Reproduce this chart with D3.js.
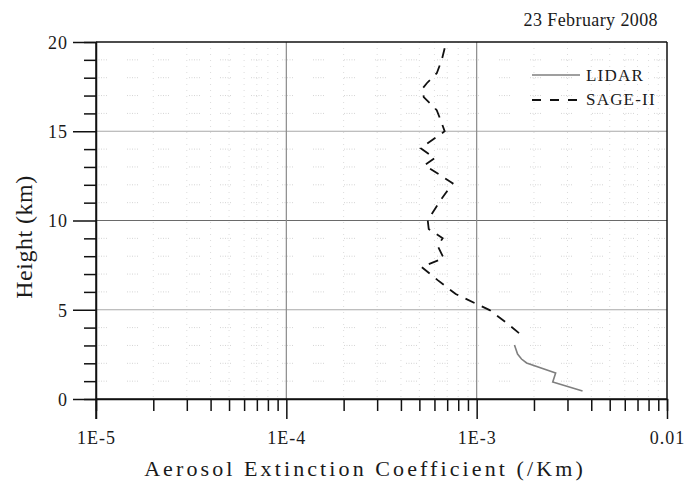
<!DOCTYPE html>
<html><head><meta charset="utf-8">
<script src="https://cdn.jsdelivr.net/npm/d3@7"></script>
<style>
body{margin:0;background:#fff}
svg{display:block}
text{font-family:"Liberation Serif","DejaVu Serif",serif;fill:#1a1a1a}
</style></head>
<body><svg id="c" width="685" height="481"></svg>
<script>
// ---- data ----
const xTickValues = [1e-5, 1e-4, 1e-3, 1e-2];
const xTickLabels = ["1E-5", "1E-4", "1E-3", "0.01"];
const yTickValues = [0, 5, 10, 15, 20];
const yTickLabels = ["0", "5", "10", "15", "20"];
const seriesNames = ["LIDAR", "SAGE-II"];
const dateLabel = "23 February 2008";
const xTitle = "Aerosol Extinction Coefficient (/Km)";
const yTitle = "Height (km)";

const lidarHeight = [3.02, 2.52, 2.24, 2.02, 1.46, 0.95, 0.45];
const lidarExt    = [1.58e-3, 1.64e-3, 1.72e-3, 1.83e-3, 2.60e-3, 2.51e-3, 3.60e-3];

const sageHeight = [19.65, 18.98, 18.25, 17.69, 17.41, 16.91, 16.18, 15.62, 15.0, 14.05,
                    13.49, 13.10, 12.09, 11.14, 10.02, 9.52, 9.01, 8.57, 7.89, 7.39,
                    6.66, 5.88, 4.98, 4.31, 3.47];
const sageExt    = [6.79e-4, 6.55e-4, 6.17e-4, 5.47e-4, 5.21e-4, 5.27e-4, 6.17e-4, 6.47e-4, 6.79e-4, 5.08e-4,
                    6.02e-4, 5.33e-4, 7.48e-4, 6.47e-4, 5.53e-4, 5.60e-4, 6.63e-4, 6.24e-4, 6.71e-4, 5.14e-4,
                    6.24e-4, 7.76e-4, 1.17e-3, 1.42e-3, 1.77e-3];

// ---- layout ----
const L = 96, R = 667, T = 42, B = 399;
const svg = d3.select("#c");
const x = d3.scaleLog().domain([1e-5, 1e-2]).range([L, R]);
const y = d3.scaleLinear().domain([0, 20]).range([B, T]);

const xMinor = [];
for (let e = -5; e < -2; e++) for (let k = 2; k <= 9; k++) xMinor.push(k * Math.pow(10, e));
const yMinor = d3.range(0, 21).filter(v => v % 5 !== 0);

// minor grid
const g = svg.append("g");
g.selectAll(".hm").data(yMinor).join("line")
  .attr("x1", L).attr("x2", R).attr("y1", d => y(d)).attr("y2", d => y(d))
  .attr("stroke", "#d4d4d4").attr("stroke-width", 1).attr("stroke-dasharray", "1,1.5,1,1.5,1,1.5,1,1.5,1,20");
g.selectAll(".vm").data(xMinor).join("line")
  .attr("y1", T).attr("y2", B).attr("x1", d => x(d)).attr("x2", d => x(d))
  .attr("stroke", "#dcdcdc").attr("stroke-width", 1).attr("stroke-dasharray", "1,5");

// major grid
g.selectAll(".hM").data([5, 10, 15]).join("line")
  .attr("x1", L).attr("x2", R).attr("y1", d => y(d)).attr("y2", d => y(d))
  .attr("stroke", d => d === 10 ? "#6a6a6a" : "#a8a8a8").attr("stroke-width", 1.2);
g.selectAll(".vM").data([1e-4, 1e-3]).join("line")
  .attr("y1", T).attr("y2", B).attr("x1", d => x(d)).attr("x2", d => x(d))
  .attr("stroke", "#8a8a8a").attr("stroke-width", 1.2);

// frame
svg.append("line").attr("x1", L).attr("x2", R).attr("y1", T).attr("y2", T).attr("stroke", "#111").attr("stroke-width", 1.5);
svg.append("line").attr("x1", R).attr("x2", R).attr("y1", T).attr("y2", B).attr("stroke", "#111").attr("stroke-width", 1.5);

// axes
const xAxis = svg.append("g").attr("transform", `translate(0,${B})`)
  .call(d3.axisBottom(x).tickValues(xTickValues).tickSize(20).tickPadding(12)
        .tickFormat((d, i) => xTickLabels[i]));
const xAxisMinor = svg.append("g").attr("transform", `translate(0,${B})`)
  .call(d3.axisBottom(x).tickValues(xMinor).tickSize(12).tickFormat(""));
const yAxis = svg.append("g").attr("transform", `translate(${L},0)`)
  .call(d3.axisLeft(y).tickValues(yTickValues).tickSize(23).tickPadding(5)
        .tickFormat((d, i) => yTickLabels[i]));
const yAxisMinor = svg.append("g").attr("transform", `translate(${L},0)`)
  .call(d3.axisLeft(y).tickValues(yMinor).tickSize(12).tickFormat(""));
[xAxis, xAxisMinor, yAxis, yAxisMinor].forEach(a => {
  a.select(".domain").attr("stroke", "#111").attr("stroke-width", 1.5);
  a.selectAll(".tick line").attr("stroke", "#111").attr("stroke-width", 1.5);
  a.selectAll("text").attr("font-family", "Liberation Serif, serif").attr("font-size", 18)
   .attr("letter-spacing", 1).attr("fill", "#1a1a1a");
});
xAxis.select(".domain").attr("d", `M${L},0H${R}`);
yAxis.select(".domain").attr("d", `M0,${T}V${B + 20}`);
yAxis.selectAll("text").attr("dy", "0.35em");

// lines
const lidar = lidarHeight.map((h, i) => [lidarExt[i], h]);
const sage = sageHeight.map((h, i) => [sageExt[i], h]);
const line = d3.line().x(d => x(d[0])).y(d => y(d[1]));
svg.append("path").attr("d", line(lidar)).attr("fill", "none")
  .attr("stroke", "#7f7f7f").attr("stroke-width", 1.6);
svg.append("path").attr("d", line(sage)).attr("fill", "none")
  .attr("stroke", "#111").attr("stroke-width", 1.8).attr("stroke-dasharray", "10,8");

// legend
const lg = svg.append("g");
lg.append("line").attr("x1", 532).attr("x2", 580).attr("y1", 75).attr("y2", 75)
  .attr("stroke", "#7f7f7f").attr("stroke-width", 1.6);
lg.append("line").attr("x1", 532).attr("x2", 580).attr("y1", 100).attr("y2", 100)
  .attr("stroke", "#111").attr("stroke-width", 1.8).attr("stroke-dasharray", "9,9");
lg.selectAll("text").data(seriesNames).join("text")
  .attr("x", 586).attr("y", (d, i) => 81 + i * 24)
  .attr("font-size", 17).attr("letter-spacing", 1.2).text(d => d);

// titles
svg.append("text").attr("x", 658).attr("y", 26).attr("text-anchor", "end")
  .attr("font-size", 18).attr("letter-spacing", 0.4).text(dateLabel);
svg.append("text").attr("x", 365).attr("y", 476).attr("text-anchor", "middle")
  .attr("font-size", 22).attr("letter-spacing", 3.1).text(xTitle);
svg.append("text").attr("transform", `translate(32,237) rotate(-90)`).attr("text-anchor", "middle")
  .attr("font-size", 24).attr("letter-spacing", 0.5).text(yTitle);
</script></body></html>
